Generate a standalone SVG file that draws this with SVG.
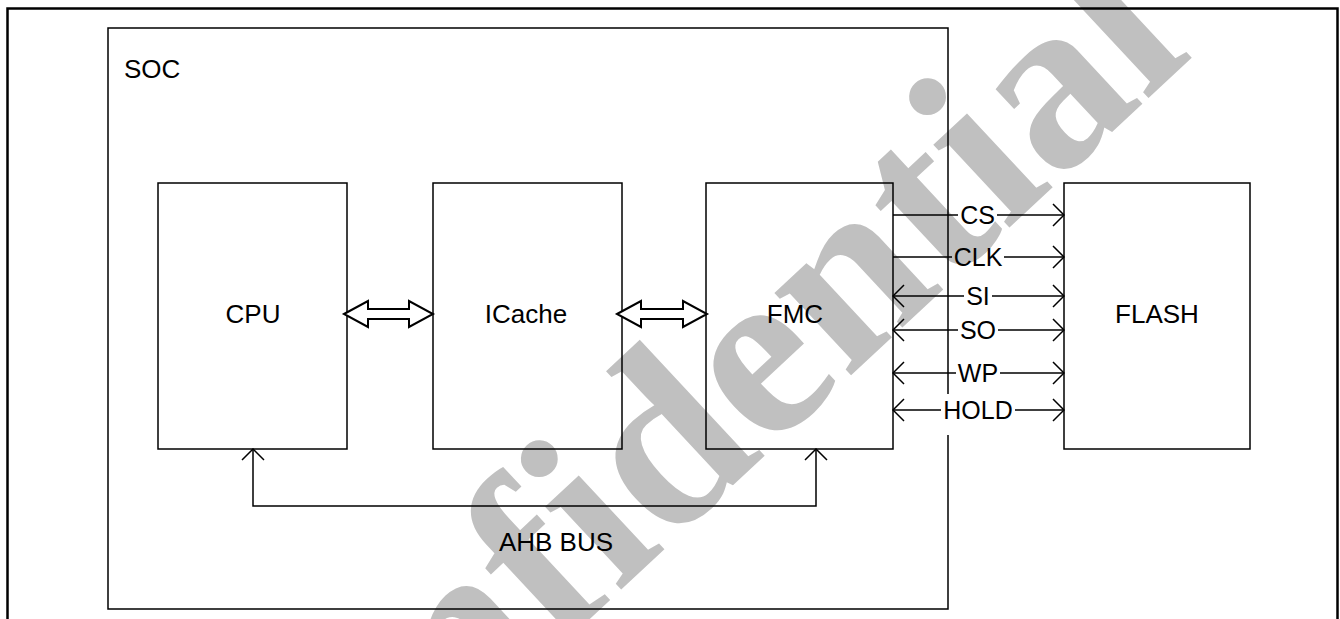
<svg xmlns="http://www.w3.org/2000/svg" width="1340" height="619" viewBox="0 0 1340 619">
<style>
.box{fill:none;stroke:#000;stroke-width:1.5}
.lbl{font-family:"Liberation Sans",Arial,sans-serif;font-size:26px;fill:#000;text-anchor:middle}
.sig{font-family:"Liberation Sans",Arial,sans-serif;font-size:25px;fill:#000;text-anchor:middle}
.ln{fill:none;stroke:#000;stroke-width:1.5}
.blk{fill:#fff;stroke:#000;stroke-width:2;stroke-linejoin:miter}
.wm{font-family:"Liberation Serif","Times New Roman",serif;font-size:245px;font-weight:bold;fill:#c0c0c0}
</style>
<defs>
<marker id="v" markerUnits="userSpaceOnUse" viewBox="0 0 13 24" refX="12" refY="12" markerWidth="13" markerHeight="24" orient="auto-start-reverse">
<path d="M1,1 L12,12 L1,23" fill="none" stroke="#000" stroke-width="1.5"/>
</marker>
</defs>
<rect width="1340" height="619" fill="#fff"/>
<text class="wm" transform="translate(239,946) rotate(-43)">Confidential</text>
<rect x="7.5" y="8.5" width="1330" height="700" fill="none" stroke="#000" stroke-width="2.5"/>
<g id="node-soc">
<path class="box" d="M948,394 V28 H108 V609 H948 V435"/>
<text class="lbl" x="124" y="78" style="text-anchor:start">SOC</text>
</g>
<g id="node-cpu">
<rect class="box" x="158" y="183" width="189" height="266"/>
<text class="lbl" x="253" y="323">CPU</text>
</g>
<g id="node-icache">
<rect class="box" x="433" y="183" width="189" height="266"/>
<text class="lbl" x="526" y="323">ICache</text>
</g>
<g id="node-fmc">
<rect class="box" x="706" y="183" width="187" height="266"/>
<text class="lbl" x="795" y="323">FMC</text>
</g>
<g id="node-flash">
<rect class="box" x="1064" y="183" width="186" height="266"/>
<text class="lbl" x="1157" y="323">FLASH</text>
</g>
<g id="connectors">
<path class="blk" d="M344,314 L368,301 L368,309 L409,309 L409,301 L433,314 L409,327 L409,319 L368,319 L368,327 Z"/>
<path class="blk" d="M617,314 L641,301 L641,309 L683,309 L683,301 L707,314 L683,327 L683,319 L641,319 L641,327 Z"/>
<path class="ln" d="M253,449 V506 H816 V449" marker-start="url(#v)" marker-end="url(#v)"/>
<text class="lbl" x="556" y="551">AHB BUS</text>
<path class="ln" d="M893,215 H958"/>
<path class="ln" d="M997,215 H1064" marker-end="url(#v)"/>
<text class="sig" x="977.5" y="224">CS</text>
<path class="ln" d="M893,257 H952"/>
<path class="ln" d="M1004,257 H1064" marker-end="url(#v)"/>
<text class="sig" x="978" y="266">CLK</text>
<path class="ln" d="M893,296 H964" marker-start="url(#v)"/>
<path class="ln" d="M992,296 H1064" marker-end="url(#v)"/>
<text class="sig" x="978" y="305">SI</text>
<path class="ln" d="M893,330 H958" marker-start="url(#v)"/>
<path class="ln" d="M998,330 H1064" marker-end="url(#v)"/>
<text class="sig" x="978" y="339">SO</text>
<path class="ln" d="M893,373 H956" marker-start="url(#v)"/>
<path class="ln" d="M1000,373 H1064" marker-end="url(#v)"/>
<text class="sig" x="978" y="382">WP</text>
<path class="ln" d="M893,410 H941" marker-start="url(#v)"/>
<path class="ln" d="M1015,410 H1064" marker-end="url(#v)"/>
<text class="sig" x="978" y="419">HOLD</text>
</g>
</svg>
